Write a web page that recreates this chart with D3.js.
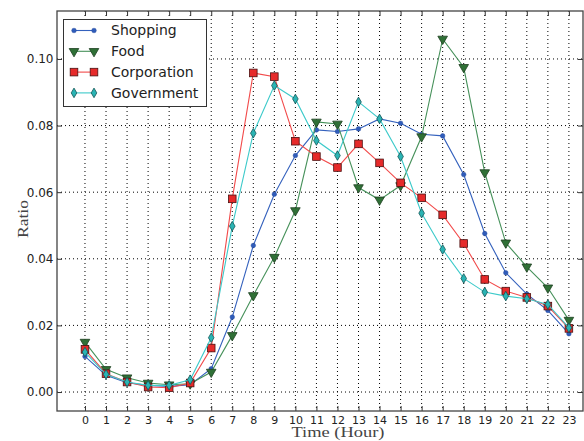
<!DOCTYPE html>
<html>
<head>
<meta charset="utf-8">
<script src="https://cdn.jsdelivr.net/npm/d3@7"></script>
<style>
  body { margin: 0; background: #fff; }
  svg { display: block; }
</style>
</head>
<body>
<svg id="chart"></svg>
<script>
const hours = d3.range(0, 24)
const xTicks = hours
const yTicks = [0, 0.02, 0.04, 0.06, 0.08, 0.10]

const shopping = [0.0107, 0.0050, 0.0028, 0.0020, 0.0017, 0.0022, 0.0070, 0.0225, 0.0440, 0.0594,
    0.0710, 0.0787, 0.0782, 0.0790, 0.0820, 0.0807, 0.0774, 0.0769, 0.0653, 0.0476,
    0.0358, 0.0294, 0.0245, 0.0175]
const food = [0.0150, 0.0068, 0.0043, 0.0027, 0.0022, 0.0025, 0.0060, 0.0170, 0.0290, 0.0405,
    0.0545, 0.0811, 0.0805, 0.0614, 0.0577, 0.0620, 0.0767, 0.1060, 0.0975, 0.0659,
    0.0448, 0.0376, 0.0313, 0.0216]
const corporation = [0.0128, 0.0055, 0.0030, 0.0015, 0.0013, 0.0027, 0.0132, 0.0580, 0.0958, 0.0947,
    0.0753, 0.0707, 0.0674, 0.0745, 0.0688, 0.0628, 0.0583, 0.0532, 0.0446, 0.0338,
    0.0303, 0.0284, 0.0258, 0.0191]
const government = [0.0120, 0.0053, 0.0030, 0.0020, 0.0020, 0.0037, 0.0163, 0.0498, 0.0777, 0.0920,
    0.0880, 0.0755, 0.0710, 0.0871, 0.0820, 0.0707, 0.0537, 0.0428, 0.0341, 0.0300,
    0.0288, 0.0280, 0.0263, 0.0193]

const seriesNames = ['Shopping', 'Food', 'Corporation', 'Government']
const seriesValues = [shopping, food, corporation, government]

const
    svgWidth = 584,
    svgHeight = 441,
    LEFT = 57,
    RIGHT = 583,
    TOP = 11,
    BOTTOM = 411

// styles per series
const styles = [
    { line: '#3461bd', fill: '#2f5cba', stroke: '#2a4f9e', marker: 'dot' },
    { line: '#46915a', fill: '#2f7036', stroke: '#1d3f20', marker: 'tri' },
    { line: '#f24a4a', fill: '#e62a2a', stroke: '#4a1010', marker: 'square' },
    { line: '#3ccaca', fill: '#2ab4b4', stroke: '#145555', marker: 'diamond' }
]

let svg = d3.select('#chart')
    .attr('width', svgWidth)
    .attr('height', svgHeight)

let x = d3.scaleLinear()
    .domain([-1.33, 23.67])
    .range([LEFT, RIGHT])

let y = d3.scaleLinear()
    .domain([-0.0057, 0.1144])
    .range([BOTTOM, TOP])

// grid
let grid = svg.append('g')
grid.selectAll('.vg')
    .data(xTicks)
    .enter().append('line')
    .attr('x1', d => x(d)).attr('x2', d => x(d))
    .attr('y1', TOP).attr('y2', BOTTOM)
    .attr('stroke', '#000').attr('stroke-width', 1)
    .attr('stroke-dasharray', '1,3')
grid.selectAll('.hg')
    .data(yTicks)
    .enter().append('line')
    .attr('y1', d => y(d)).attr('y2', d => y(d))
    .attr('x1', LEFT).attr('x2', RIGHT)
    .attr('stroke', '#000').attr('stroke-width', 1)
    .attr('stroke-dasharray', '1,3')

// axes, ticks pointing inward
const tickFont = '"DejaVu Sans", sans-serif'
let xAxis = d3.axisBottom(x).tickValues(xTicks).tickSize(-5).tickPadding(5).tickFormat(d3.format('d'))
let yAxis = d3.axisLeft(y).tickValues(yTicks).tickSize(-5).tickPadding(3.5).tickFormat(d3.format('.2f'))

svg.append('g')
    .attr('transform', `translate(0, ${BOTTOM})`)
    .call(xAxis)
    .call(g => g.select('.domain').remove())
    .call(g => g.selectAll('text').style('font-family', tickFont).style('font-size', '11px').attr('fill', '#222'))
    .call(g => g.selectAll('line').attr('stroke', '#333'))

svg.append('g')
    .attr('transform', `translate(${LEFT}, 0)`)
    .call(yAxis)
    .call(g => g.select('.domain').remove())
    .call(g => g.selectAll('text').style('font-family', tickFont).style('font-size', '12px').attr('fill', '#222'))
    .call(g => g.selectAll('line').attr('stroke', '#333'))

svg.append('g')
    .attr('transform', `translate(0, ${TOP})`)
    .call(d3.axisTop(x).tickValues(xTicks).tickSize(-5).tickFormat(''))
    .call(g => g.select('.domain').remove())
    .call(g => g.selectAll('line').attr('stroke', '#333'))

svg.append('g')
    .attr('transform', `translate(${RIGHT}, 0)`)
    .call(d3.axisRight(y).tickValues(yTicks).tickSize(-5).tickFormat(''))
    .call(g => g.select('.domain').remove())
    .call(g => g.selectAll('line').attr('stroke', '#333'))

// frame
svg.append('rect')
    .attr('x', LEFT).attr('y', TOP)
    .attr('width', RIGHT - LEFT).attr('height', BOTTOM - TOP)
    .attr('fill', 'none').attr('stroke', '#444').attr('stroke-width', 1.3)

// markers
function drawMarker(g, type, st) {
    if (type === 'dot') {
        g.append('circle').attr('r', 2.3).attr('fill', st.fill).attr('stroke', st.stroke).attr('stroke-width', 0.5)
    } else if (type === 'tri') {
        g.append('path').attr('d', d3.symbol(d3.symbolTriangle, 40)())
            .attr('transform', 'rotate(180)')
            .attr('fill', st.fill).attr('stroke', st.stroke).attr('stroke-width', 0.8)
    } else if (type === 'square') {
        g.append('rect').attr('x', -3.8).attr('y', -3.8).attr('width', 7.6).attr('height', 7.6)
            .attr('fill', st.fill).attr('stroke', st.stroke).attr('stroke-width', 0.8)
    } else {
        g.append('path').attr('d', 'M0,-4.8L2.8,0L0,4.8L-2.8,0Z')
            .attr('fill', st.fill).attr('stroke', st.stroke).attr('stroke-width', 0.8)
    }
}

let line = d3.line()
    .x((d, i) => x(hours[i]))
    .y(d => y(d))

seriesValues.forEach((vals, si) => {
    let st = styles[si]
    let g = svg.append('g')
    g.append('path')
        .datum(vals)
        .attr('d', line)
        .attr('fill', 'none')
        .attr('stroke', st.line)
        .attr('stroke-width', 1.1)
    g.selectAll('.m')
        .data(vals)
        .enter().append('g')
        .attr('transform', (d, i) => `translate(${x(hours[i])}, ${y(d)})`)
        .each(function () { drawMarker(d3.select(this), st.marker, st) })
})

// legend
let legend = svg.append('g')
legend.append('rect')
    .attr('x', 63.5).attr('y', 19.5).attr('width', 143).attr('height', 87)
    .attr('fill', '#fff').attr('stroke', '#333').attr('stroke-width', 1)
seriesNames.forEach((name, i) => {
    let st = styles[i]
    let ly = 30.5 + i * 20.8
    legend.append('line')
        .attr('x1', 74).attr('x2', 94).attr('y1', ly).attr('y2', ly)
        .attr('stroke', st.line).attr('stroke-width', 1.1)
    ;[74, 94].forEach(mx => {
        let g = legend.append('g').attr('transform', `translate(${mx}, ${ly})`)
        drawMarker(g, st.marker, st)
    })
    legend.append('text')
        .attr('x', 111).attr('y', ly)
        .attr('dy', '0.35em')
        .style('font-family', tickFont)
        .style('font-size', '14px')
        .attr('fill', '#222')
        .text(name)
})

// axis labels (wide serif, stretched to the reference width)
const labelFont = '"Liberation Serif", "DejaVu Serif", serif'
svg.append('text')
    .attr('x', 338).attr('y', 437)
    .attr('text-anchor', 'middle')
    .attr('textLength', 93).attr('lengthAdjust', 'spacingAndGlyphs')
    .style('font-family', labelFont).style('font-size', '14px')
    .attr('fill', '#444')
    .text('Time (Hour)')

svg.append('text')
    .attr('transform', 'translate(28, 219) rotate(-90)')
    .attr('text-anchor', 'middle')
    .attr('textLength', 38).attr('lengthAdjust', 'spacingAndGlyphs')
    .style('font-family', labelFont).style('font-size', '14.5px')
    .attr('fill', '#444')
    .text('Ratio')
</script>
</body>
</html>
